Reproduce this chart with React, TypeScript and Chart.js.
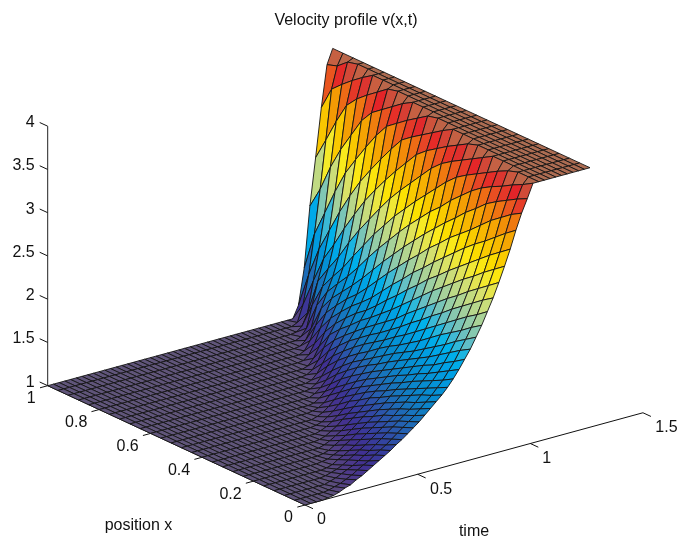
import React, { useEffect, useRef } from "react";
import { Chart, registerables } from "chart.js";

Chart.register(...registerables);

// Grid coordinates
const positions = [0,0.04,0.08,0.12,0.16,0.2,0.24,0.28,0.32,0.36,0.4,0.44,0.48,0.52,0.56,0.6,0.64,0.68,0.72,0.76,0.8,0.84,0.88,0.92,0.96,1];
const times = [0,0.0253,0.0506,0.0759,0.1012,0.1265,0.1518,0.1771,0.2024,0.2277,0.253,0.2783,0.3036,0.3289,0.3542,0.3795,0.4048,0.4301,0.4554,0.4807,0.506,0.5313,0.5566,0.5819,0.6072,0.6325,0.6578,0.6831,0.7084,0.7337,0.759,0.7843,0.8096,0.8349,0.8602,0.8855,0.9108,0.9361,0.9614,0.9867,1.012,1.0373,1.0626,1.0879,1.1132,1.1385,1.1638,1.1891,1.2144,1.2397,1.265];

// Each row of v(x,t): [number of leading samples at v=1, the rising samples]; the rest is at v=4
const risingRows: [number, number[]][] = [
  [4,[1.01,1.02,1.04,1.07,1.09,1.13,1.16,1.20,1.24,1.28,1.32,1.36,1.41,1.45,1.50,1.55,1.60,1.66,1.72,1.78,1.84,1.91,1.99,2.08,2.18,2.28,2.40,2.52,2.66,2.80,2.96,3.13,3.31,3.51,3.69,3.84]],
  [6,[1.01,1.03,1.05,1.08,1.11,1.15,1.19,1.22,1.27,1.31,1.35,1.40,1.45,1.50,1.55,1.60,1.66,1.72,1.78,1.85,1.92,2.01,2.10,2.21,2.32,2.44,2.57,2.72,2.87,3.04,3.22,3.42,3.62,3.78,3.93]],
  [8,[1.02,1.04,1.07,1.10,1.13,1.17,1.21,1.25,1.30,1.35,1.40,1.45,1.50,1.55,1.60,1.66,1.73,1.79,1.86,1.94,2.03,2.13,2.24,2.35,2.49,2.63,2.78,2.95,3.13,3.32,3.53,3.71,3.87]],
  [9,[1.01,1.03,1.05,1.08,1.12,1.16,1.20,1.24,1.29,1.34,1.39,1.44,1.49,1.55,1.61,1.67,1.73,1.80,1.87,1.95,2.05,2.15,2.27,2.40,2.54,2.69,2.85,3.03,3.22,3.44,3.64,3.80,3.96]],
  [11,[1.01,1.03,1.07,1.10,1.14,1.18,1.23,1.28,1.33,1.38,1.44,1.49,1.55,1.61,1.67,1.74,1.81,1.89,1.97,2.07,2.19,2.31,2.45,2.59,2.76,2.93,3.13,3.33,3.56,3.74,3.90]],
  [12,[1.01,1.02,1.05,1.08,1.13,1.17,1.22,1.27,1.32,1.37,1.43,1.49,1.55,1.61,1.67,1.74,1.82,1.90,1.99,2.10,2.22,2.35,2.50,2.66,2.83,3.03,3.22,3.45,3.67,3.83]],
  [14,[1.01,1.03,1.07,1.11,1.15,1.20,1.25,1.31,1.36,1.42,1.48,1.54,1.61,1.68,1.75,1.83,1.91,2.01,2.13,2.26,2.40,2.56,2.73,2.92,3.12,3.35,3.58,3.76,3.93]],
  [16,[1.02,1.05,1.09,1.13,1.18,1.24,1.29,1.35,1.42,1.48,1.54,1.61,1.68,1.76,1.84,1.93,2.04,2.16,2.30,2.46,2.62,2.81,3.02,3.23,3.47,3.69,3.86]],
  [17,[1.01,1.03,1.07,1.11,1.17,1.22,1.28,1.34,1.41,1.47,1.54,1.61,1.69,1.77,1.85,1.95,2.07,2.20,2.35,2.52,2.70,2.90,3.12,3.36,3.61,3.79,3.96]],
  [19,[1.02,1.05,1.09,1.14,1.20,1.27,1.33,1.40,1.47,1.54,1.61,1.69,1.78,1.87,1.97,2.10,2.24,2.40,2.58,2.79,3.00,3.23,3.50,3.72,3.89]],
  [20,[1.01,1.03,1.07,1.12,1.18,1.25,1.32,1.39,1.46,1.54,1.61,1.70,1.78,1.88,1.99,2.13,2.29,2.47,2.66,2.88,3.12,3.37,3.64,3.82]],
  [22,[1.02,1.05,1.10,1.16,1.23,1.30,1.38,1.46,1.53,1.61,1.70,1.79,1.90,2.02,2.17,2.34,2.54,2.75,2.99,3.24,3.53,3.74,3.93]],
  [23,[1.01,1.03,1.07,1.14,1.21,1.29,1.37,1.45,1.53,1.62,1.71,1.81,1.92,2.06,2.22,2.41,2.62,2.86,3.11,3.39,3.66,3.85]],
  [25,[1.01,1.05,1.11,1.18,1.27,1.35,1.44,1.53,1.62,1.72,1.82,1.94,2.09,2.28,2.48,2.72,2.97,3.25,3.56,3.77,3.97]],
  [27,[1.03,1.08,1.15,1.24,1.34,1.43,1.53,1.62,1.73,1.83,1.96,2.14,2.34,2.57,2.83,3.11,3.41,3.69,3.89]],
  [28,[1.01,1.05,1.12,1.22,1.32,1.42,1.52,1.62,1.74,1.85,2.00,2.19,2.42,2.67,2.96,3.26,3.60,3.81]],
  [30,[1.02,1.08,1.18,1.30,1.41,1.52,1.63,1.75,1.87,2.04,2.26,2.51,2.79,3.10,3.44,3.72,3.93]],
  [31,[1.01,1.05,1.14,1.27,1.40,1.51,1.63,1.76,1.90,2.09,2.33,2.61,2.93,3.27,3.63,3.84]],
  [33,[1.02,1.09,1.21,1.36,1.50,1.63,1.77,1.93,2.15,2.43,2.75,3.09,3.47,3.75,3.97]],
  [34,[1.01,1.06,1.17,1.33,1.49,1.64,1.79,1.96,2.23,2.54,2.90,3.28,3.66,3.88]],
  [36,[1.03,1.13,1.29,1.47,1.64,1.80,2.01,2.32,2.68,3.08,3.51,3.79]],
  [37,[1.01,1.06,1.18,1.43,1.63,1.82,2.08,2.44,2.87,3.29,3.69,3.92]],
  [39,[1.03,1.11,1.36,1.62,1.86,2.17,2.60,3.07,3.56,3.83]],
  [40,[1.01,1.06,1.20,1.55,1.90,2.30,2.81,3.32,3.73,3.97]],
  [42,[1.03,1.22,1.55,2.00,2.50,3.05,3.62,3.87]],
  [44,[1.14,1.55,2.25,2.79,3.35,3.83]],
];

// Axis ticks
const xTicks = [0, 0.2, 0.4, 0.6, 0.8, 1];
const xTickLabels = ["0", "0.2", "0.4", "0.6", "0.8", "1"];
const tTicks = [0, 0.5, 1, 1.5];
const tTickLabels = ["0", "0.5", "1", "1.5"];
const zTicks = [1, 1.5, 2, 2.5, 3, 3.5, 4];
const zTickLabels = ["1", "1.5", "2", "2.5", "3", "3.5", "4"];

const titleText = "Velocity profile v(x,t)";
const xAxisName = "position x";
const tAxisName = "time";

// Colour by mean height of a facet
const colorStops: [number, number, number, number][] = [
  [1.0, 96, 85, 122],
  [1.03, 90, 74, 126],
  [1.1, 78, 58, 136],
  [1.2, 64, 48, 146],
  [1.32, 54, 62, 158],
  [1.45, 42, 88, 172],
  [1.6, 24, 116, 188],
  [1.75, 8, 136, 204],
  [2.0, 0, 160, 228],
  [2.15, 0, 178, 235],
  [2.3, 95, 190, 200],
  [2.5, 160, 208, 160],
  [2.75, 215, 225, 110],
  [2.95, 250, 235, 30],
  [3.05, 252, 225, 0],
  [3.25, 248, 190, 0],
  [3.45, 243, 150, 5],
  [3.6, 238, 110, 20],
  [3.72, 230, 65, 40],
  [3.82, 228, 35, 40],
  [3.92, 200, 95, 65],
  [4.0, 172, 108, 82],
];

function facetColor(z: number): string {
  for (let k = 1; k < colorStops.length; k++) {
    const a = colorStops[k - 1];
    const b = colorStops[k];
    if (z <= b[0]) {
      const f = Math.max(0, (z - a[0]) / (b[0] - a[0]));
      const c = [1, 2, 3].map((n) => Math.round(a[n] + (b[n] - a[n]) * f));
      return `rgb(${c[0]},${c[1]},${c[2]})`;
    }
  }
  return "rgb(172,108,82)";
}

// Fixed 3-D view
function view(x: number, t: number, z: number) {
  return {
    x: 305 + 225.3 * t - 257.3 * x,
    y: 505 - 61.5 * t - 119.3 * x - 86.5 * (z - 1),
  };
}

function surfaceRow(i: number): number[] {
  const [ones, rising] = risingRows[i];
  const row: number[] = [];
  for (let j = 0; j < times.length; j++) {
    row.push(j < ones ? 1 : j - ones < rising.length ? rising[j - ones] : 4);
  }
  return row;
}

const polygonPlugin = {
  id: "facets",
  beforeDatasetDraw(chart: any, args: any) {
    const ds = chart.data.datasets[args.index];
    if (!ds.facet) return;
    const pts = args.meta.data;
    const ctx = chart.ctx;
    ctx.save();
    ctx.beginPath();
    ctx.moveTo(pts[0].x, pts[0].y);
    for (let k = 1; k < pts.length; k++) ctx.lineTo(pts[k].x, pts[k].y);
    ctx.closePath();
    ctx.fillStyle = ds.backgroundColor;
    ctx.fill();
    ctx.restore();
  },
};

const textPlugin = {
  id: "axisText",
  afterDraw(chart: any) {
    const ctx = chart.ctx;
    const sx = chart.scales.x;
    const sy = chart.scales.y;
    const put = (s: string, x: number, y: number, align: CanvasTextAlign) => {
      ctx.textAlign = align;
      ctx.fillText(s, sx.getPixelForValue(x), sy.getPixelForValue(y));
    };
    ctx.save();
    ctx.fillStyle = "#111";
    ctx.font = '16px "Liberation Sans", Arial, sans-serif';
    ctx.textBaseline = "middle";
    put(titleText, 346, 21, "center");
    put(xAxisName, 138.5, 526, "center");
    put(tAxisName, 474, 532, "center");
    xTicks.forEach((v, i) => {
      const p = view(v, 0, 1);
      const wide = xTickLabels[i].length > 1;
      put(xTickLabels[i], p.x + (wide ? -23 : -16.5), p.y + 13, "center");
    });
    tTicks.forEach((v, i) => {
      const p = view(0, v, 1);
      const wide = tTickLabels[i].length > 1;
      put(tTickLabels[i], p.x + (wide ? 23.5 : 16.5), p.y + 15, "center");
    });
    zTicks.forEach((v, i) => {
      const p = view(1, 0, v);
      put(zTickLabels[i], p.x - 13, p.y - 3.5, "right");
    });
    ctx.restore();
  },
};

function buildDatasets() {
  const sets: any[] = [];
  const rows = positions.map((_, i) => surfaceRow(i));
  for (let i = 0; i < positions.length - 1; i++) {
    for (let j = 0; j < times.length - 1; j++) {
      const corners: [number, number][] = [
        [i, j],
        [i + 1, j],
        [i + 1, j + 1],
        [i, j + 1],
        [i, j],
      ];
      const data = corners.map(([a, b]) => view(positions[a], times[b], rows[a][b]));
      const mean = (rows[i][j] + rows[i + 1][j] + rows[i + 1][j + 1] + rows[i][j + 1]) / 4;
      sets.push({
        facet: true,
        data,
        backgroundColor: facetColor(mean),
        borderColor: "#141414",
        borderWidth: 0.9,
        pointRadius: 0,
        showLine: true,
        tension: 0,
        fill: false,
        clip: false,
      });
    }
  }
  const axisLine = (data: { x: number; y: number }[], color = "#222") => ({
    data,
    borderColor: color,
    borderWidth: 1,
    pointRadius: 0,
    showLine: true,
    tension: 0,
    fill: false,
    clip: false,
  });
  sets.push(axisLine([view(0, 0, 1), view(0, 1.5, 1)], "#111"));
  sets.push(axisLine([view(0, 0, 1), view(1, 0, 1)], "#111"));
  sets.push(axisLine([view(1, 0, 1), view(1, 0, 4)]));
  const offset = (p: { x: number; y: number }, dx: number, dy: number) => ({ x: p.x + dx, y: p.y + dy });
  xTicks.forEach((v) => {
    const p = view(v, 0, 1);
    sets.push(axisLine([p, offset(p, -7.7, 2.1)], "#111"));
  });
  tTicks.forEach((v) => {
    const p = view(0, v, 1);
    sets.push(axisLine([p, offset(p, 8, 3.7)], "#111"));
  });
  zTicks.forEach((v) => {
    const p = view(1, 0, v);
    sets.push(axisLine([p, offset(p, -8, -3.7)], "#111"));
  });
  return sets;
}

export default function App() {
  const ref = useRef<HTMLCanvasElement | null>(null);
  useEffect(() => {
    document.body.style.margin = "0";
    document.body.style.background = "#fff";
    const chart = new Chart(ref.current as HTMLCanvasElement, {
      type: "scatter",
      data: { datasets: buildDatasets() },
      options: {
        responsive: false,
        animation: false,
        events: [],
        layout: { padding: 0 },
        plugins: { legend: { display: false }, tooltip: { enabled: false }, title: { display: false } },
        scales: {
          x: { type: "linear", min: 0, max: 691, display: false },
          y: { type: "linear", min: 0, max: 539, reverse: true, display: false },
        },
      },
      plugins: [polygonPlugin, textPlugin],
    } as any);
    return () => chart.destroy();
  }, []);
  return <canvas ref={ref} width={691} height={539} style={{ display: "block" }} />;
}
